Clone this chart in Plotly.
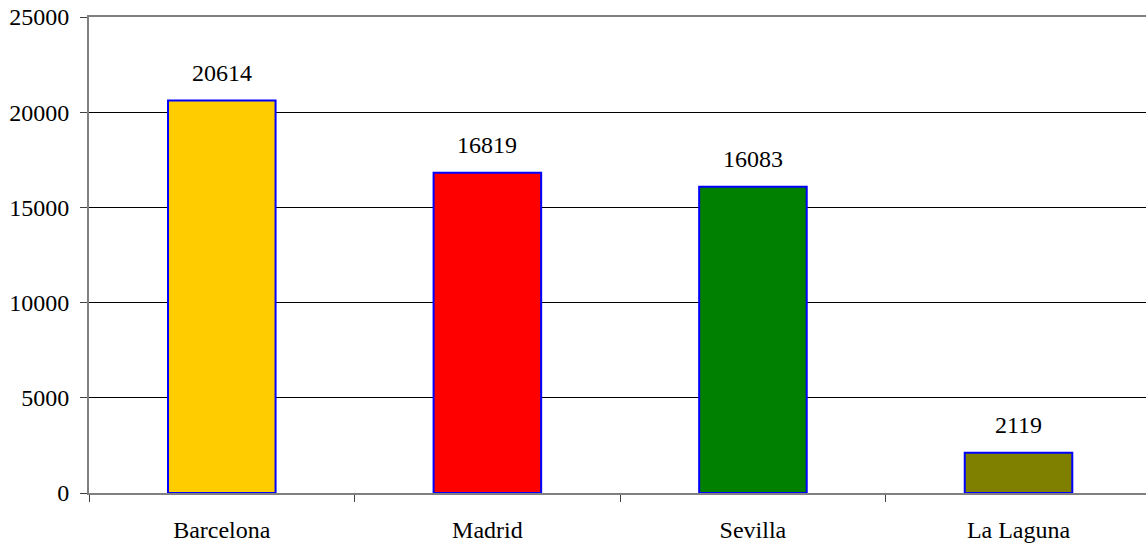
import plotly.graph_objects as go

categories = ["Barcelona", "Madrid", "Sevilla", "La Laguna"]
values = [20614, 16819, 16083, 2119]
bar_colors = ["#FFCC00", "#FF0000", "#008000", "#808000"]
y_ticks = [0, 5000, 10000, 15000, 20000, 25000]

FONT = "Liberation Serif"
FS = 24

fig = go.Figure()
fig.add_trace(go.Bar(
    x=categories,
    y=values,
    width=0.405,
    marker=dict(color=bar_colors, line=dict(color="#0000FF", width=2)),
    hoverinfo="x+y",
))

for c, v in zip(categories, values):
    fig.add_annotation(x=c, y=v, text=str(v), showarrow=False,
                       yanchor="bottom", yshift=13,
                       font=dict(family=FONT, size=FS, color="black"))

fig.update_layout(
    width=1146, height=547,
    margin=dict(l=89, r=0, t=17, b=54),
    plot_bgcolor="white", paper_bgcolor="white",
    showlegend=False,
    font=dict(family=FONT, size=FS, color="black"),
    xaxis=dict(
        range=[-0.5, 3.48],
        automargin=False,
        showline=True, linecolor="#808080", linewidth=2, mirror=True,
        ticks="outside", tickson="boundaries", ticklen=7, tickcolor="#404040",
        ticklabelstandoff=14,
        showgrid=False, tickfont=dict(family=FONT, size=FS, color="black"),
    ),
    yaxis=dict(
        range=[0, 25000],
        automargin=False,
        tickvals=y_ticks,
        ticktext=[str(t) for t in y_ticks],
        showline=True, linecolor="#808080", linewidth=2,
        ticks="outside", ticklen=7, tickcolor="#404040",
        ticklabelstandoff=6,
        showgrid=True, gridcolor="black", gridwidth=1,
        zeroline=False,
        tickfont=dict(family=FONT, size=FS, color="black"),
    ),
)

fig.write_html("out.html", config={"displayModeBar": False})

# remove the browser's default body margin so the figure sits at the page origin
with open("out.html", "r", encoding="utf-8") as f:
    html = f.read()
html = html.replace("<body>", '<body style="margin:0;padding:0;overflow:hidden">', 1)
with open("out.html", "w", encoding="utf-8") as f:
    f.write(html)
